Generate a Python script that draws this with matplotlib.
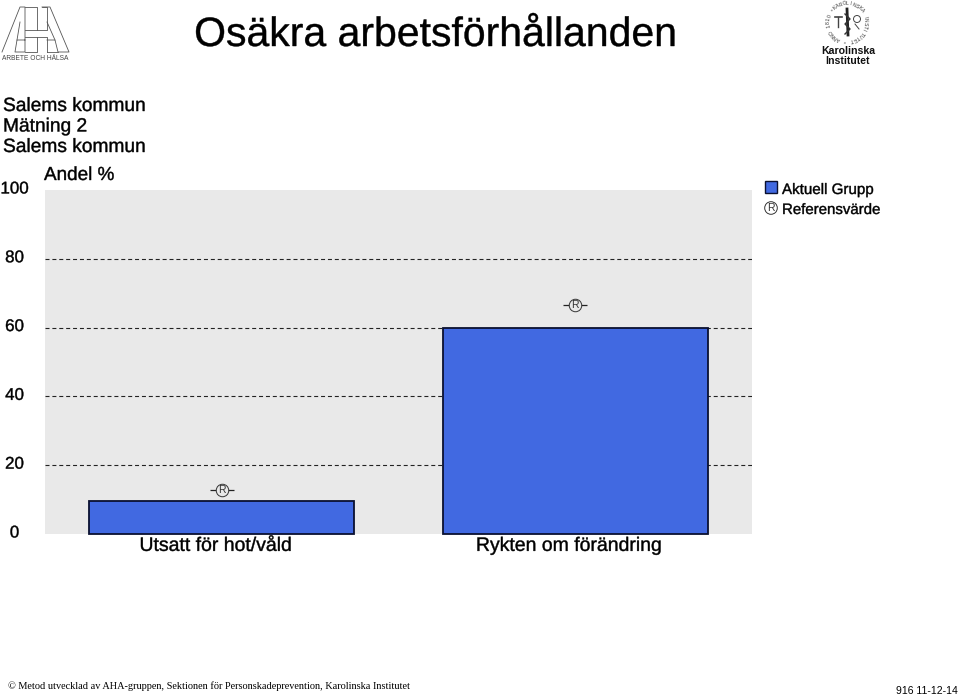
import numpy as np
import matplotlib
matplotlib.use('Agg')
import matplotlib.pyplot as plt
import matplotlib.patheffects as pe
from matplotlib.patches import Rectangle, Circle

plt.rcParams['font.family'] = ['Liberation Sans', 'DejaVu Sans']

# data
categories = ['Utsatt för hot/våld', 'Rykten om förändring']
values = [9.6, 60]
ref_values = [12.8, 66.6]
y_ticks = [0, 20, 40, 60, 80, 100]
header_lines = ['Salems kommun', 'Mätning 2', 'Salems kommun']

BLUE = '#4169E1'
GRAY = '#E9E9E9'
W, H = 960, 697

# the reference text is a bit heavier than plain Liberation Sans
heavy = [pe.Stroke(linewidth=0.3, foreground='black')]

fig = plt.figure(figsize=(W / 100, H / 100), dpi=100)

# overlay in pixel coordinates, for logos and page text
page = fig.add_axes([0, 0, 1, 1], zorder=5)
page.set_xlim(0, W)
page.set_ylim(H, 0)
page.axis('off')
page.patch.set_alpha(0)

# plot area
ax = fig.add_axes([45 / W, 1 - 534 / H, 707 / W, 344 / H])
ax.set_facecolor(GRAY)
ax.set_xlim(-0.5, 1.5)
ax.set_ylim(0, 100)
for s in ax.spines.values():
    s.set_visible(False)
ax.set_xticks([])
ax.set_yticks([])

for t in y_ticks[1:-1]:
    ax.axhline(t, color='#222222', lw=0.8, dashes=(3.6, 2.6), zorder=1)

x = np.arange(len(categories))
ax.bar(x, values, width=0.75, color=BLUE, edgecolor='#0A1030', linewidth=1.3, zorder=2, clip_on=False)

# reference markers
ax.plot(x, ref_values, ls='none', marker='_', ms=17, mew=0.9, color='#222222', zorder=3)
ax.plot(x, ref_values, ls='none', marker='o', ms=9, mfc=GRAY, mec='#333333', mew=0.7, zorder=4)
for xi, rv in zip(x, ref_values):
    ax.text(xi, rv, 'R', ha='center', va='center', fontsize=7.5, color='#333333', zorder=5)

# y tick labels, centred in the left margin
for t in y_ticks:
    ax.text(-30.5 / 707, t + 0.3, str(t), transform=ax.get_yaxis_transform(),
            ha='center', va='center', fontsize=12.2, color='black', clip_on=False, path_effects=heavy)

# category labels
for xi, c in zip(x, categories):
    ax.text(xi - 0.016, -3.6, c, ha='center', va='center', fontsize=14, color='black',
            clip_on=False, path_effects=heavy)

# title + header
page.text(436, 35, 'Osäkra arbetsförhållanden', ha='center', va='center', fontsize=29.5, color='black', path_effects=heavy)
for i, line in enumerate(header_lines):
    page.text(3, 106.5 + i * 20.5, line, ha='left', va='center', fontsize=13.8, color='black', path_effects=heavy)
page.text(44, 175.5, 'Andel %', ha='left', va='center', fontsize=13.6, color='black', path_effects=heavy)

# legend
page.add_patch(Rectangle((765, 181), 12, 12, fc=BLUE, ec='#0A1030', lw=1))
page.text(782, 190, 'Aktuell Grupp', ha='left', va='center', fontsize=10.9, color='black', path_effects=heavy)
page.add_patch(Circle((771, 208), 6.3, fc='white', ec='#333333', lw=0.7))
page.text(771, 208, 'R', ha='center', va='center', fontsize=7.5, color='#333333')
page.text(782, 210, 'Referensvärde', ha='left', va='center', fontsize=10.8, color='black', path_effects=heavy)

# footer
page.text(8, 686, '© Metod utvecklad av AHA-gruppen, Sektionen för Personskadeprevention, Karolinska Institutet',
          ha='left', va='center', fontsize=7.35, color='black', family=['Liberation Serif', 'DejaVu Serif'])
page.text(958, 691, '916 11-12-14', ha='right', va='center', fontsize=7.5, color='black')

# AHA logo, outlines only
logo = '#555555'
aha_lines = [
    [(2, 52), (20, 7), (25, 7), (25, 52), (15, 52), (17, 40), (25, 40)],
    [(20, 22), (17, 40)],
    [(25, 7), (37, 7), (37, 30), (47, 30), (47, 7), (42, 7)],
    [(25, 52), (37, 52), (37, 37), (47, 37), (47, 52)],
    [(25, 30), (37, 30)],
    [(25, 37), (37, 37)],
    [(42, 7), (50, 7), (69, 52), (58, 52), (55, 40), (47, 40)],
    [(47, 52), (58, 52)],
    [(47, 22), (55, 40)],
]
for seg in aha_lines:
    xs, ys = zip(*seg)
    page.plot(xs, ys, color=logo, lw=0.6)
page.text(35, 58, 'ARBETE OCH HÄLSA', ha='center', va='center', fontsize=4.8, color='#444444')

# Karolinska seal
cx, cy, r = 847, 22, 18.5
seal = 'KAROLINSKA INSTITUTET * ANNO 1810 *'
for i, ch in enumerate(seal):
    a = np.pi * 0.72 - 2 * np.pi * i / len(seal)
    page.text(cx + r * np.cos(a), cy - r * np.sin(a), ch, ha='center', va='center',
              fontsize=3.6, color='#333333', rotation=np.degrees(a) - 90)
page.plot([847, 848], [9, 35], color='#222222', lw=2)
page.plot([845, 850, 845, 850, 845], [14, 19, 24, 29, 34], color='#333333', lw=1)
page.plot([835, 842], [17, 17], color='#444444', lw=1.2)
page.plot([838, 838], [17, 27], color='#444444', lw=1)
page.add_patch(Circle((857, 19), 3.5, fc='none', ec='#444444', lw=0.7))
page.plot([855, 859], [24, 29], color='#444444', lw=0.7)
page.text(848, 51, 'Karolinska', ha='center', va='center', fontsize=7.6, fontweight='bold', color='#111111')
page.text(848, 61.5, 'Institutet', ha='center', va='center', fontsize=7.6, fontweight='bold', color='#111111')

fig.savefig('out.png', dpi=100)
plt.close(fig)
